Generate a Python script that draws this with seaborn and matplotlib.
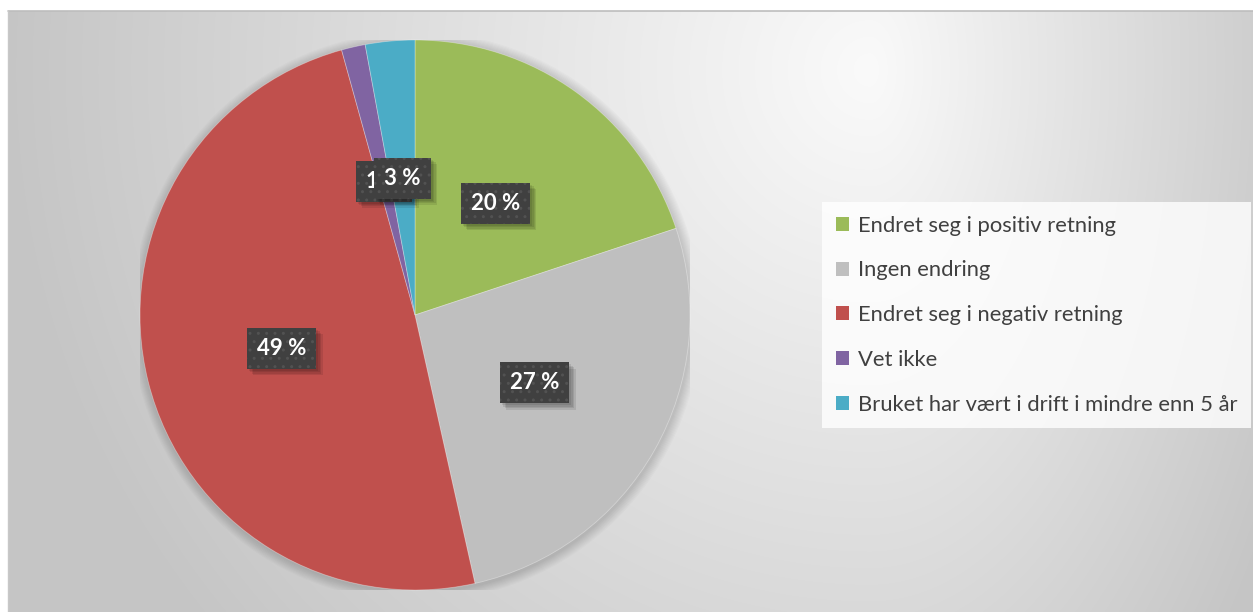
import numpy as np
import matplotlib
matplotlib.use("Agg")
import matplotlib.pyplot as plt
import seaborn as sns
from matplotlib.patches import Patch, Circle
from matplotlib.lines import Line2D
import matplotlib.patheffects as pe

# ---- data ----
categories = [
    "Endret seg i positiv retning",
    "Ingen endring",
    "Endret seg i negativ retning",
    "Vet ikke",
    "Bruket har vært i drift i mindre enn 5 år",
]
shares = [19.9, 26.6, 49.2, 1.4, 2.9]
colors = ["#9BBB59", "#BFBFBF", "#C0504D", "#8064A2", "#4BACC6"]

sns.set_theme(style="white")
plt.rcParams['font.family'] = ['Lato', 'DejaVu Sans']
palette = sns.color_palette(colors)

W, H = 1253, 612
fig = plt.figure(figsize=(W / 100, H / 100), dpi=100)
fig.patch.set_facecolor('white')

# ---- background gradient (chart area) ----
x0, y0 = 8, 11
bg = fig.add_axes([x0 / W, 0, (W - x0) / W, (H - y0) / H])
yy, xx = np.mgrid[y0:H, x0:W] + 0.5
cx, cy = 870, 70
dx = xx - cx
dx = np.where(dx < 0, dx / 870, dx / 470)
dy = (yy - cy) / 880
d = np.clip(np.sqrt(dx ** 2 + dy ** 2), 0, 1)
val = (250 - d * (250 - 197)) / 255
img = np.dstack([val, val, val])
bg.imshow(img, extent=(0, 1, 0, 1), aspect='auto', interpolation='bilinear')
bg.set_xlim(0, 1)
bg.set_ylim(0, 1)
bg.axis('off')
fig.add_artist(Line2D([x0 / W, 1], [1 - y0 / H, 1 - y0 / H], color='#bdbdbd', lw=1.2))
fig.add_artist(Line2D([x0 / W, x0 / W], [0, 1 - y0 / H], color='#c8c8c8', lw=1.0))


class SoftShadow(pe.AbstractPathEffect):
    """Blurred-looking drop shadow without hatch."""
    def __init__(self, offsets, alpha):
        super().__init__()
        self.offsets = offsets
        self.alpha = alpha

    def draw_path(self, renderer, gc, tpath, affine, rgbFace):
        for ox, oy in self.offsets:
            gc0 = renderer.new_gc()
            gc0.copy_properties(gc)
            gc0.set_hatch(None)
            gc0.set_linewidth(0)
            tr = matplotlib.transforms.Affine2D().translate(
                renderer.points_to_pixels(ox), renderer.points_to_pixels(oy))
            renderer.draw_path(gc0, tpath, affine + tr, (0, 0, 0, self.alpha))
            gc0.restore()


# ---- pie ----
pcx, pcy, R = 415, 315, 275
ax = fig.add_axes([(pcx - R) / W, (H - pcy - R) / H, 2 * R / W, 2 * R / H])
ax.set_xlim(-1, 1)
ax.set_ylim(-1, 1)
ax.axis('off')
ax.patch.set_alpha(0)

for k in range(1, 10):
    ax.add_patch(Circle((0.004, -0.006), 1 + k * 0.004, color='k', alpha=0.02, lw=0, zorder=0))

wedges, texts, autotexts = ax.pie(
    shares, colors=palette, startangle=90, counterclock=False,
    autopct=lambda p: f"{p:.0f} %", pctdistance=0.5, radius=1,
    wedgeprops=dict(edgecolor=(1, 1, 1, 0.35), linewidth=0.6),
    textprops=dict(color='white', fontsize=16, fontweight='bold'),
)
for t in autotexts:
    t.set_bbox(dict(boxstyle='square,pad=0.45', facecolor='#404040',
                    edgecolor='#525252', linewidth=0, hatch='..'))
    t.get_bbox_patch().set_path_effects([
        SoftShadow([(1.5, -1.5), (2.5, -2.5), (3.5, -3.5), (4.5, -4.5)], 0.09),
        pe.Normal()])
ax.set_xlim(-1, 1)
ax.set_ylim(-1, 1)

# ---- legend ----
handles = [Patch(facecolor=c, edgecolor='none') for c in palette]
leg = fig.legend(handles, categories, loc='upper left',
                 bbox_to_anchor=(822 / W, 1 - 202 / H), frameon=True,
                 fontsize=15.8, handlelength=0.6, handleheight=0.6,
                 handletextpad=0.4, labelspacing=1.13, borderpad=0.62,
                 borderaxespad=0, fancybox=False)
leg.get_frame().set_facecolor((1, 1, 1, 0.22))
leg.get_frame().set_edgecolor('none')
for t in leg.get_texts():
    t.set_color('#404040')

fig.savefig("out.png", dpi=100)
